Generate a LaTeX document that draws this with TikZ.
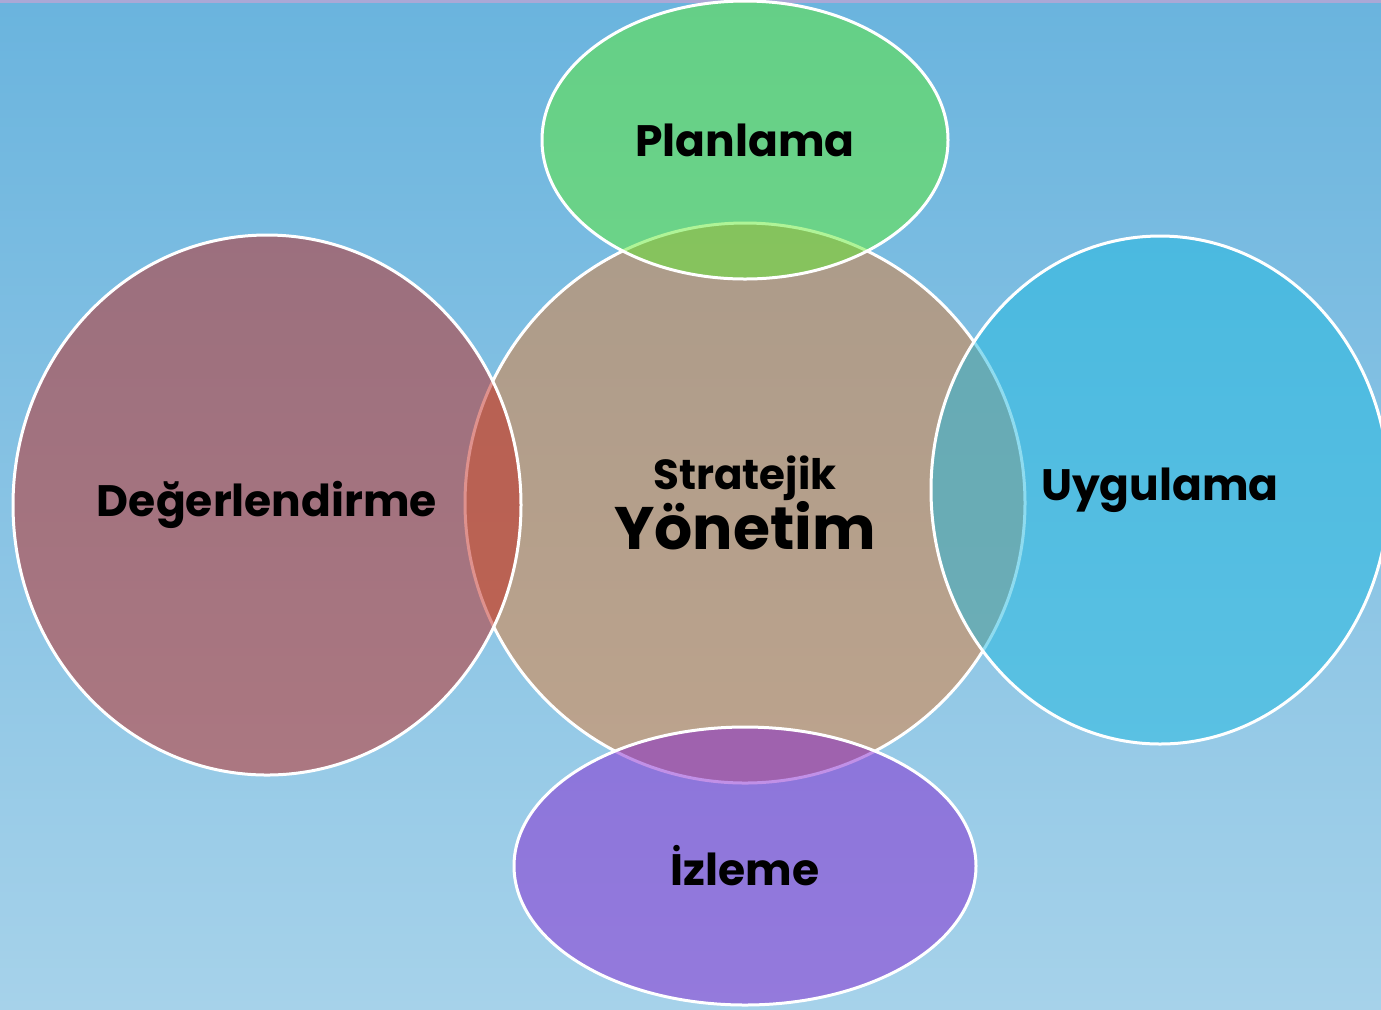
\documentclass[tikz,border=0pt]{standalone}
\usepackage{fontspec}
\setmainfont{Poppins}
\usetikzlibrary{positioning, shapes.geometric}

\definecolor{skytop}{RGB}{106,180,222}
\definecolor{skybot}{RGB}{166,210,234}
\definecolor{topline}{RGB}{170,168,214}
\definecolor{coreclr}{RGB}{225,125,52}
\definecolor{planclr}{RGB}{96,235,49}
\definecolor{evalclr}{RGB}{191,37,28}
\definecolor{applyclr}{RGB}{31,185,224}
\definecolor{watchclr}{RGB}{132,35,208}

\begin{document}
\begin{tikzpicture}[
    x=0.5pt, y=-0.5pt,
    venn/.style={ellipse, draw=white, line width=1.5pt, fill opacity=0.5, text opacity=1,
        inner sep=0pt, align=center, font=\bfseries\fontsize{22}{26}\selectfont}
]
    \useasboundingbox (0,0) rectangle (1381,1009);
    \fill[top color=skytop, bottom color=skybot] (0,0) rectangle (1381,1009);
    \fill[topline] (0,0) rectangle (1381,3);

    % middle circle first, the others lie over it
    \node[venn, fill=coreclr, minimum width=280pt, minimum height=280pt] (core) at (745,503)
        {\fontsize{21}{24}\selectfont Stratejik\\[-1pt]\fontsize{30}{34}\selectfont Yönetim};
    \node[venn, fill=planclr, minimum width=203pt, minimum height=139pt] (plan) at (745,140) {Planlama};
    \node[venn, fill=evalclr, minimum width=254pt, minimum height=270pt] (eval) at (267,505) {Değerlendirme};
    \node[venn, fill=applyclr, minimum width=229pt, minimum height=254pt] (apply) at (1160,490) {Uygulama};
    \node[venn, fill=watchclr, minimum width=231pt, minimum height=139pt] (watch) at (745,866) {İzleme};
\end{tikzpicture}
\end{document}
